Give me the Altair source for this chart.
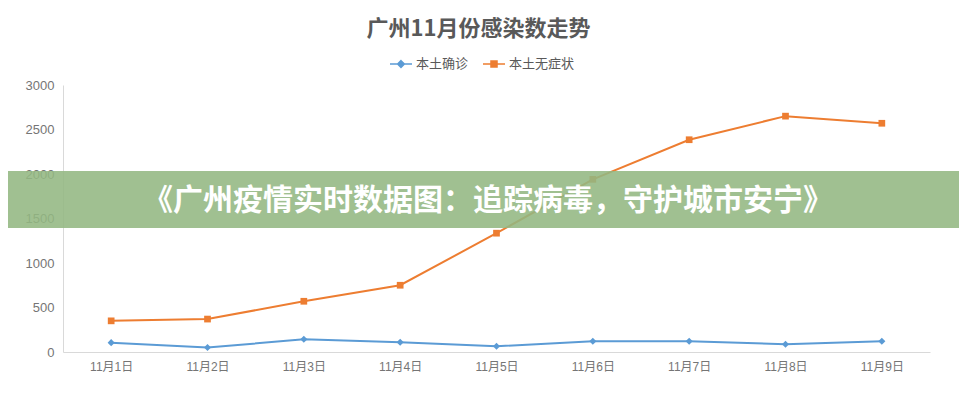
import altair as alt
import pandas as pd

dates = ["11月1日", "11月2日", "11月3日", "11月4日", "11月5日", "11月6日", "11月7日", "11月8日", "11月9日"]
confirmed = [105, 50, 143, 109, 64, 120, 120, 87, 120]
asymptomatic = [350, 370, 570, 750, 1335, 1940, 2385, 2650, 2570]
series_names = ["本土确诊", "本土无症状"]
series_colors = ["#5B9BD5", "#ED7D31"]
y_ticks = [0, 500, 1000, 1500, 2000, 2500, 3000]
title_text = "广州11月份感染数走势"
banner_text = "《广州疫情实时数据图：追踪病毒，守护城市安宁》"

df = pd.DataFrame({
    "date": dates * 2,
    "series": [series_names[0]] * len(dates) + [series_names[1]] * len(dates),
    "value": confirmed + asymptomatic,
})
banner_df = pd.DataFrame({"t": [banner_text]})

CJK = "Noto Sans CJK SC"
LAT = "Liberation Sans, Noto Sans CJK SC"
GRAY = "#595959"
LGRAY = "#757575"

x = alt.X("date:N", sort=dates,
          axis=alt.Axis(title=None, labelAngle=0, ticks=False, domainColor="#d9d9d9",
                        labelColor=LGRAY, labelFontSize=12, labelPadding=9, labelFont=LAT,
                        grid=False))
y = alt.Y("value:Q", scale=alt.Scale(domain=[0, 3000], nice=False),
          axis=alt.Axis(title=None, values=y_ticks, ticks=False, domainColor="#d9d9d9",
                        labelColor=LGRAY, labelFontSize=13, labelPadding=9, labelFont=LAT,
                        format="d", grid=False))

color_scale = alt.Scale(domain=series_names, range=series_colors)
base = alt.Chart(df)

lines = base.mark_line(strokeWidth=2).encode(
    x=x, y=y, color=alt.Color("series:N", scale=color_scale, legend=None))

pts_blue = base.transform_filter(alt.datum.series == series_names[0]).mark_point(
    shape="diamond", filled=True, size=50, opacity=1).encode(
    x=x, y=y, color=alt.Color("series:N", scale=color_scale, legend=None))

pts_orange = base.transform_filter(alt.datum.series == series_names[1]).mark_point(
    shape="square", filled=True, size=45, opacity=1).encode(
    x=x, y=y, color=alt.Color("series:N", scale=color_scale, legend=None))

legend_paths = ["M-1,0H1M0,-0.3L0.3,0L0,0.3L-0.3,0Z",
                "M-1,0H1M-0.27,-0.27H0.27V0.27H-0.27Z"]
leg = alt.Legend(title=None, orient="none", legendX=326, legendY=-33, direction="horizontal",
                 symbolSize=484, symbolStrokeWidth=1.6, labelFontSize=13, labelColor=GRAY,
                 labelFont=CJK, columnPadding=10, labelOffset=3, symbolOpacity=1)

legend_layer = base.mark_point(filled=True, opacity=0).encode(
    x=x, y=y,
    shape=alt.Shape("series:N", scale=alt.Scale(domain=series_names, range=legend_paths), legend=leg),
    fill=alt.Fill("series:N", scale=alt.Scale(domain=series_names, range=series_colors), legend=leg),
    stroke=alt.Stroke("series:N", scale=alt.Scale(domain=series_names, range=series_colors), legend=leg),
)

banner = alt.Chart(banner_df).mark_rect(color="#93b782", opacity=0.88).encode(
    x=alt.value(-55), x2=alt.value(896), y=alt.value(86), y2=alt.value(143))

banner_txt = alt.Chart(banner_df).mark_text(
    color="white", font=CJK, fontSize=30, fontWeight="bold", align="center", baseline="middle"
).encode(text="t:N", x=alt.value(425), y=alt.value(116))

chart = alt.layer(legend_layer, lines, pts_blue, pts_orange, banner, banner_txt).properties(
    width=867, height=267,
    autosize=alt.AutoSizeParams(type="none"),
    padding={"left": 55, "top": 77, "right": 29, "bottom": 40},
    title=alt.TitleParams(title_text, anchor="middle", dx=-18, offset=11, fontSize=22,
                          font=CJK, fontWeight="bold", color=GRAY),
).configure_view(stroke=None)

chart.save("out.html", embed_options={"renderer": "svg", "actions": False})
